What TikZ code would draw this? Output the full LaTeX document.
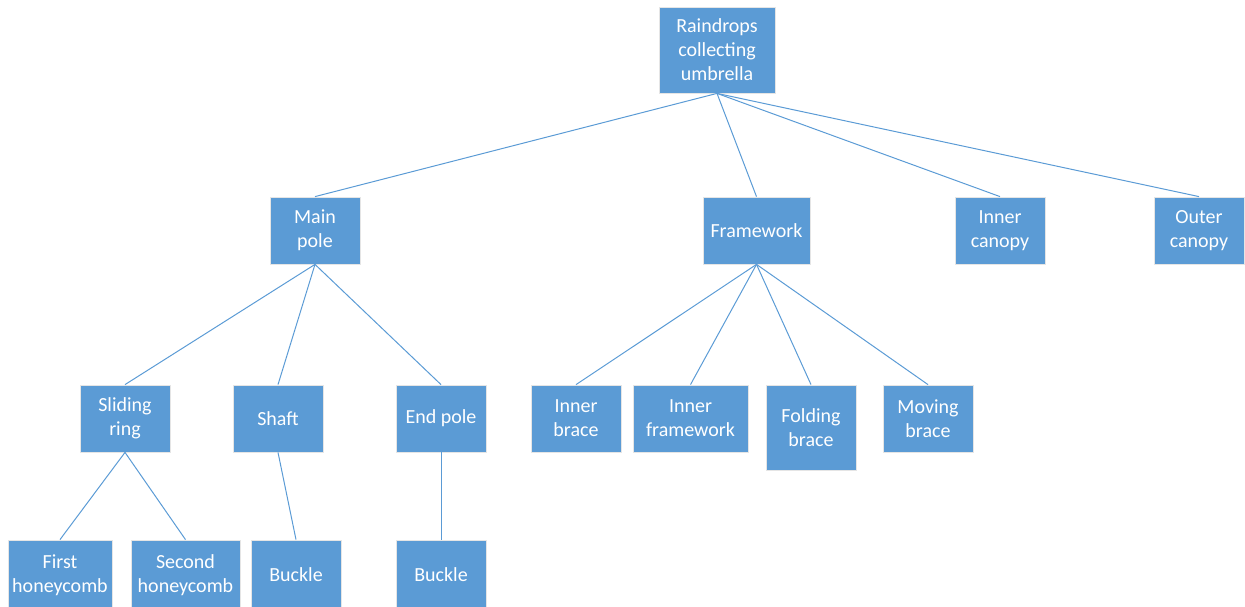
\documentclass[tikz,border=0pt]{standalone}
\usepackage{fontspec}
\setmainfont{Carlito}
\begin{document}
\begin{tikzpicture}[x=1pt,y=-1pt,
  box/.style={draw=white!80!gray, line width=0.8pt, fill=boxblue, text=white,
    font=\fontsize{20}{24}\selectfont, align=center, inner sep=0pt,
    minimum width=90pt, minimum height=67pt},
  link/.style={draw=boxblue, line width=1pt}]
\definecolor{boxblue}{HTML}{5B9BD5}
\useasboundingbox (0,0) rectangle (1245,607);
\clip (0,0) rectangle (1245,607);
% top level
\node[box, minimum width=116pt, minimum height=86pt] (root) at (717,50) {Raindrops\\collecting\\umbrella};
% second level
\node[box] (main) at (315,230.5) {Main\\pole};
\node[box, minimum width=107pt] (frame) at (756.5,230.5) {Framework};
\node[box] (incan) at (1000,230.5) {Inner\\canopy};
\node[box] (outcan) at (1199,230.5) {Outer\\canopy};
% third level
\node[box] (slide) at (125,418.5) {Sliding\\ring};
\node[box] (shaft) at (278,418.5) {Shaft};
\node[box] (endp) at (441,418.5) {End pole};
\node[box] (inbrace) at (576,418.5) {Inner\\brace};
\node[box, minimum width=115pt] (inframe) at (690.5,418.5) {Inner\\framework};
\node[box, minimum height=85pt] (fold) at (811,427.5) {Folding\\brace};
\node[box] (moving) at (928,418.5) {Moving\\brace};
% fourth level
\node[box, minimum width=104pt, minimum height=70pt] (first) at (60,575) {First\\honeycomb};
\node[box, minimum width=109pt, minimum height=70pt] (second) at (185.5,575) {Second\\honeycomb};
\node[box, minimum height=70pt] (buckA) at (296,575) {Buckle};
\node[box, minimum height=70pt] (buckB) at (441,575) {Buckle};
% connectors
\foreach \c in {main,frame,incan,outcan}
  \draw[link] (root.south) -- (\c.north);
\foreach \c in {slide,shaft,endp}
  \draw[link] (main.south) -- (\c.north);
\foreach \c in {inbrace,inframe,fold,moving}
  \draw[link] (frame.south) -- (\c.north);
\foreach \c in {first,second}
  \draw[link] (slide.south) -- (\c.north);
\draw[link] (shaft.south) -- (buckA.north);
\draw[link] (endp.south) -- (buckB.north);
\end{tikzpicture}
\end{document}
